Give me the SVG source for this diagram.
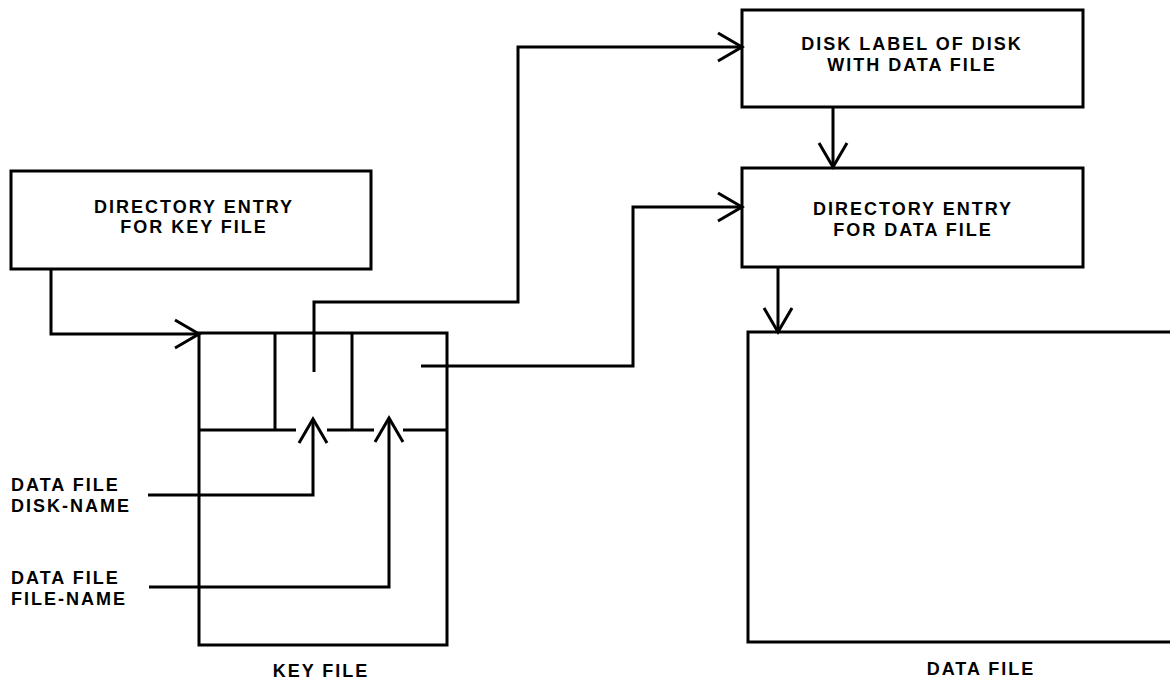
<svg xmlns="http://www.w3.org/2000/svg" width="1170" height="681" viewBox="0 0 1170 681">
<style>
.box{fill:none;stroke:#000;stroke-width:3;stroke-linejoin:miter}
.ln{fill:none;stroke:#000;stroke-width:3}
.con{fill:none;stroke:#000;stroke-width:3;marker-end:url(#arr)}
.t{font-family:"Liberation Sans",Arial,Helvetica,sans-serif;font-weight:bold;font-size:18px;letter-spacing:2px;fill:#000}
.c{text-anchor:middle}
</style>
<defs>
<marker id="arr" markerUnits="userSpaceOnUse" markerWidth="30" markerHeight="32" viewBox="-26 -16 28 32" refX="0" refY="0" orient="auto" overflow="visible">
<path d="M-24,-14 L0,0 L-24,14" fill="none" stroke="#000" stroke-width="3"/>
</marker>
</defs>
<rect width="1170" height="681" fill="#fff"/>
<g id="dir-key">
<rect class="box" x="11" y="171" width="360" height="98"/>
<text class="t c" x="194" y="213">DIRECTORY ENTRY</text>
<text class="t c" x="194" y="233">FOR KEY FILE</text>
</g>
<g id="disk-label">
<rect class="box" x="742" y="10" width="341" height="97"/>
<text class="t c" x="912" y="50">DISK LABEL OF DISK</text>
<text class="t c" x="912" y="71">WITH DATA FILE</text>
</g>
<g id="dir-data">
<rect class="box" x="742" y="168" width="341" height="99"/>
<text class="t c" x="913" y="215">DIRECTORY ENTRY</text>
<text class="t c" x="913" y="236">FOR DATA FILE</text>
</g>
<g id="key-file">
<rect class="box" x="199" y="333" width="248" height="312"/>
<line class="ln" x1="275" y1="333" x2="275" y2="430"/>
<line class="ln" x1="352" y1="333" x2="352" y2="430"/>
<line class="ln" x1="199" y1="430" x2="296" y2="430"/>
<line class="ln" x1="327" y1="430" x2="374" y2="430"/>
<line class="ln" x1="403" y1="430" x2="447" y2="430"/>
<text class="t c" x="321" y="677">KEY FILE</text>
</g>
<g id="data-file">
<path class="box" d="M1172,332 H748 V642 H1172"/>
<text class="t c" x="981" y="675">DATA FILE</text>
</g>
<g id="disk-name-label">
<text class="t" x="11" y="491">DATA FILE</text>
<text class="t" x="11" y="512">DISK-NAME</text>
</g>
<g id="file-name-label">
<text class="t" x="11" y="584">DATA FILE</text>
<text class="t" x="11" y="605">FILE-NAME</text>
</g>
<g id="connectors">
<path class="con" d="M51,269 V334 H199"/>
<path class="con" d="M314,372 V302 H518 V47 H742"/>
<path class="con" d="M421,366 H633 V207 H742"/>
<path class="con" d="M833,107 V167"/>
<path class="con" d="M778,267 V332"/>
<path class="con" d="M148,495 H313 V419"/>
<path class="con" d="M149,587 H389 V418"/>
</g>
</svg>
